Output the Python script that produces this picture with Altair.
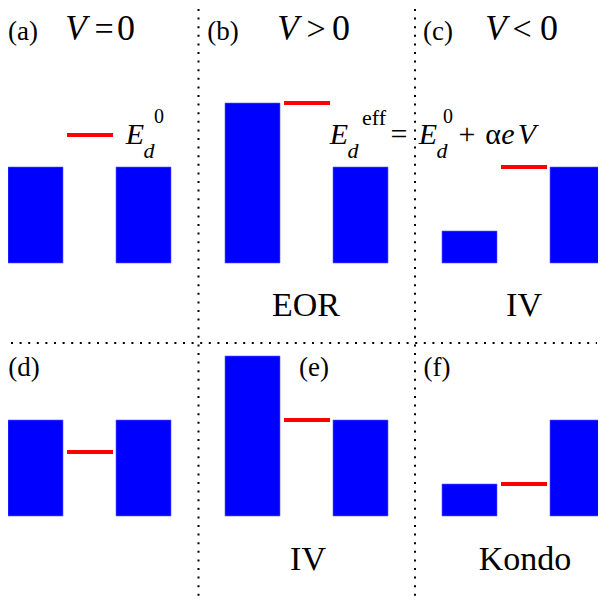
import altair as alt
import pandas as pd

# ---- data: energy levels (in units of one lead-band step) ----
panels      = ["a", "b", "c", "d", "e", "f"]
panel_col   = [0, 1, 2, 0, 1, 2]
panel_row   = [0, 0, 0, 1, 1, 1]
left_level  = [3, 5, 1, 3, 5, 1]
dot_level   = [4, 5, 3, 2, 3, 1]
right_level = [3, 3, 3, 3, 3, 3]

panel_labels = ["(a)", "(b)", "(c)", "(d)", "(e)", "(f)"]
regime_labels = ["", "EOR", "IV", "", "IV", "Kondo"]

# ---- layout (page pixels) ----
COL_W = 217
X0 = 8
ROW_BASE = [263, 516]
UNIT = 32
LEAD_W = 55
DOT_X0, DOT_X1 = 59, 105
RIGHT_X0 = 108

PLOT_W, PLOT_H = 590, 594
BLUE = "#0000ff"
RED = "#ff0000"
FONT = "Liberation Serif"

leads = []
dots = []
for p, c, r, ll, dl, rl in zip(panels, panel_col, panel_row, left_level, dot_level, right_level):
    leads.append(dict(panel=p, col=c, row=r, side=0, level=ll))
    leads.append(dict(panel=p, col=c, row=r, side=1, level=rl))
    dots.append(dict(panel=p, col=c, row=r, level=dl))
leads = pd.DataFrame(leads)
dots = pd.DataFrame(dots)

xs = alt.Scale(domain=[8, 8 + PLOT_W], nice=False, zero=False)
ys = alt.Scale(domain=[8, 8 + PLOT_H], nice=False, zero=False, reverse=True)
noax = None

base_expr = f"datum.row == 0 ? {ROW_BASE[0]} : {ROW_BASE[1]}"

lead_layer = alt.Chart(leads).transform_calculate(
    xa=f"{X0} + {COL_W}*datum.col + datum.side*{RIGHT_X0}",
    xb=f"{X0} + {COL_W}*datum.col + datum.side*{RIGHT_X0} + {LEAD_W}",
    yb=base_expr,
    yt=f"({base_expr}) - datum.level*{UNIT}",
).mark_rect(color=BLUE, stroke="#5a5aff", strokeWidth=0.6).encode(
    x=alt.X("xa:Q", scale=xs, axis=noax),
    x2="xb:Q",
    y=alt.Y("yt:Q", scale=ys, axis=noax),
    y2="yb:Q",
)

dot_layer = alt.Chart(dots).transform_calculate(
    xa=f"{X0} + {COL_W}*datum.col + {DOT_X0}",
    xb=f"{X0} + {COL_W}*datum.col + {DOT_X1}",
    yl=f"({base_expr}) - datum.level*{UNIT}",
).mark_rule(color=RED, strokeWidth=4).encode(
    x=alt.X("xa:Q", scale=xs, axis=noax),
    x2="xb:Q",
    y=alt.Y("yl:Q", scale=ys, axis=noax),
)

# dotted separators
vsep = pd.DataFrame({"x": [198.5, 415.0], "y1": [9, 9], "y2": [8 + PLOT_H, 8 + PLOT_H]})
hsep = pd.DataFrame({"y": [343.0], "x1": [11], "x2": [597]})
dash = [2, 6.6]
vsep_layer = alt.Chart(vsep).mark_rule(color="black", strokeWidth=2, strokeDash=dash).encode(
    x=alt.X("x:Q", scale=xs, axis=noax), y=alt.Y("y1:Q", scale=ys, axis=noax), y2="y2:Q")
hsep_layer = alt.Chart(hsep).mark_rule(color="black", strokeWidth=2, strokeDash=dash).encode(
    y=alt.Y("y:Q", scale=ys, axis=noax), x=alt.X("x1:Q", scale=xs, axis=noax), x2="x2:Q")

# text pieces: (center x, baseline y, text, size, italic)
label_pos = [(23, 40), (223, 40), (438, 40), (24, 376), (314, 376), (437, 376)]
regime_pos = [(0, 0), (306, 316), (524, 316), (0, 0), (308, 570), (525, 570)]

texts = []
for (x, y), t in zip(label_pos, panel_labels):
    texts.append((x, y, t, 27, False))
for (x, y), t in zip(regime_pos, regime_labels):
    if t:
        texts.append((x, y, t, 34, False))
# V = 0, V > 0, V < 0
texts += [
    (76, 40, "V", 35, True), (104, 40, "=", 34, False), (126, 40, "0", 36, False),
    (288, 40, "V", 35, True), (316, 40, ">", 34, False), (341, 40, "0", 36, False),
    (496, 40, "V", 35, True), (522, 40, "<", 34, False), (549, 40, "0", 36, False),
]
# E_d^0 in (a)
texts += [
    (135, 144, "E", 30, True), (149, 158, "d", 22, True), (159, 123, "0", 20, False),
]
# E_d^eff = E_d^0 + αeV
texts += [
    (339, 144, "E", 30, True), (353, 158, "d", 22, True), (374, 125, "eff", 22, False),
    (399, 144, "=", 30, False),
    (428, 144, "E", 30, True), (442, 158, "d", 22, True), (448, 123, "0", 20, False),
    (467, 144, "+", 30, False),
    (493, 144, "α", 30, False), (508, 144, "e", 30, True), (527, 144, "V", 30, True),
]
tdf = pd.DataFrame(texts, columns=["x", "y", "text", "size", "italic"])


def text_layer(italic):
    return alt.Chart(tdf[tdf["italic"] == italic]).mark_text(
        font=FONT, fontStyle="italic" if italic else "normal", align="center",
        baseline="alphabetic", color="black",
    ).encode(
        x=alt.X("x:Q", scale=xs, axis=noax),
        y=alt.Y("y:Q", scale=ys, axis=noax),
        text="text:N",
        size=alt.Size("size:Q", scale=None, legend=None),
    )


chart = alt.layer(
    vsep_layer, hsep_layer, lead_layer, dot_layer, text_layer(False), text_layer(True)
).properties(
    width=PLOT_W, height=PLOT_H, padding=0, autosize=alt.AutoSizeParams(type="none"),
    background="white",
).configure_view(stroke=None)

chart.save("out.html", embed_options={"renderer": "svg", "actions": False})
